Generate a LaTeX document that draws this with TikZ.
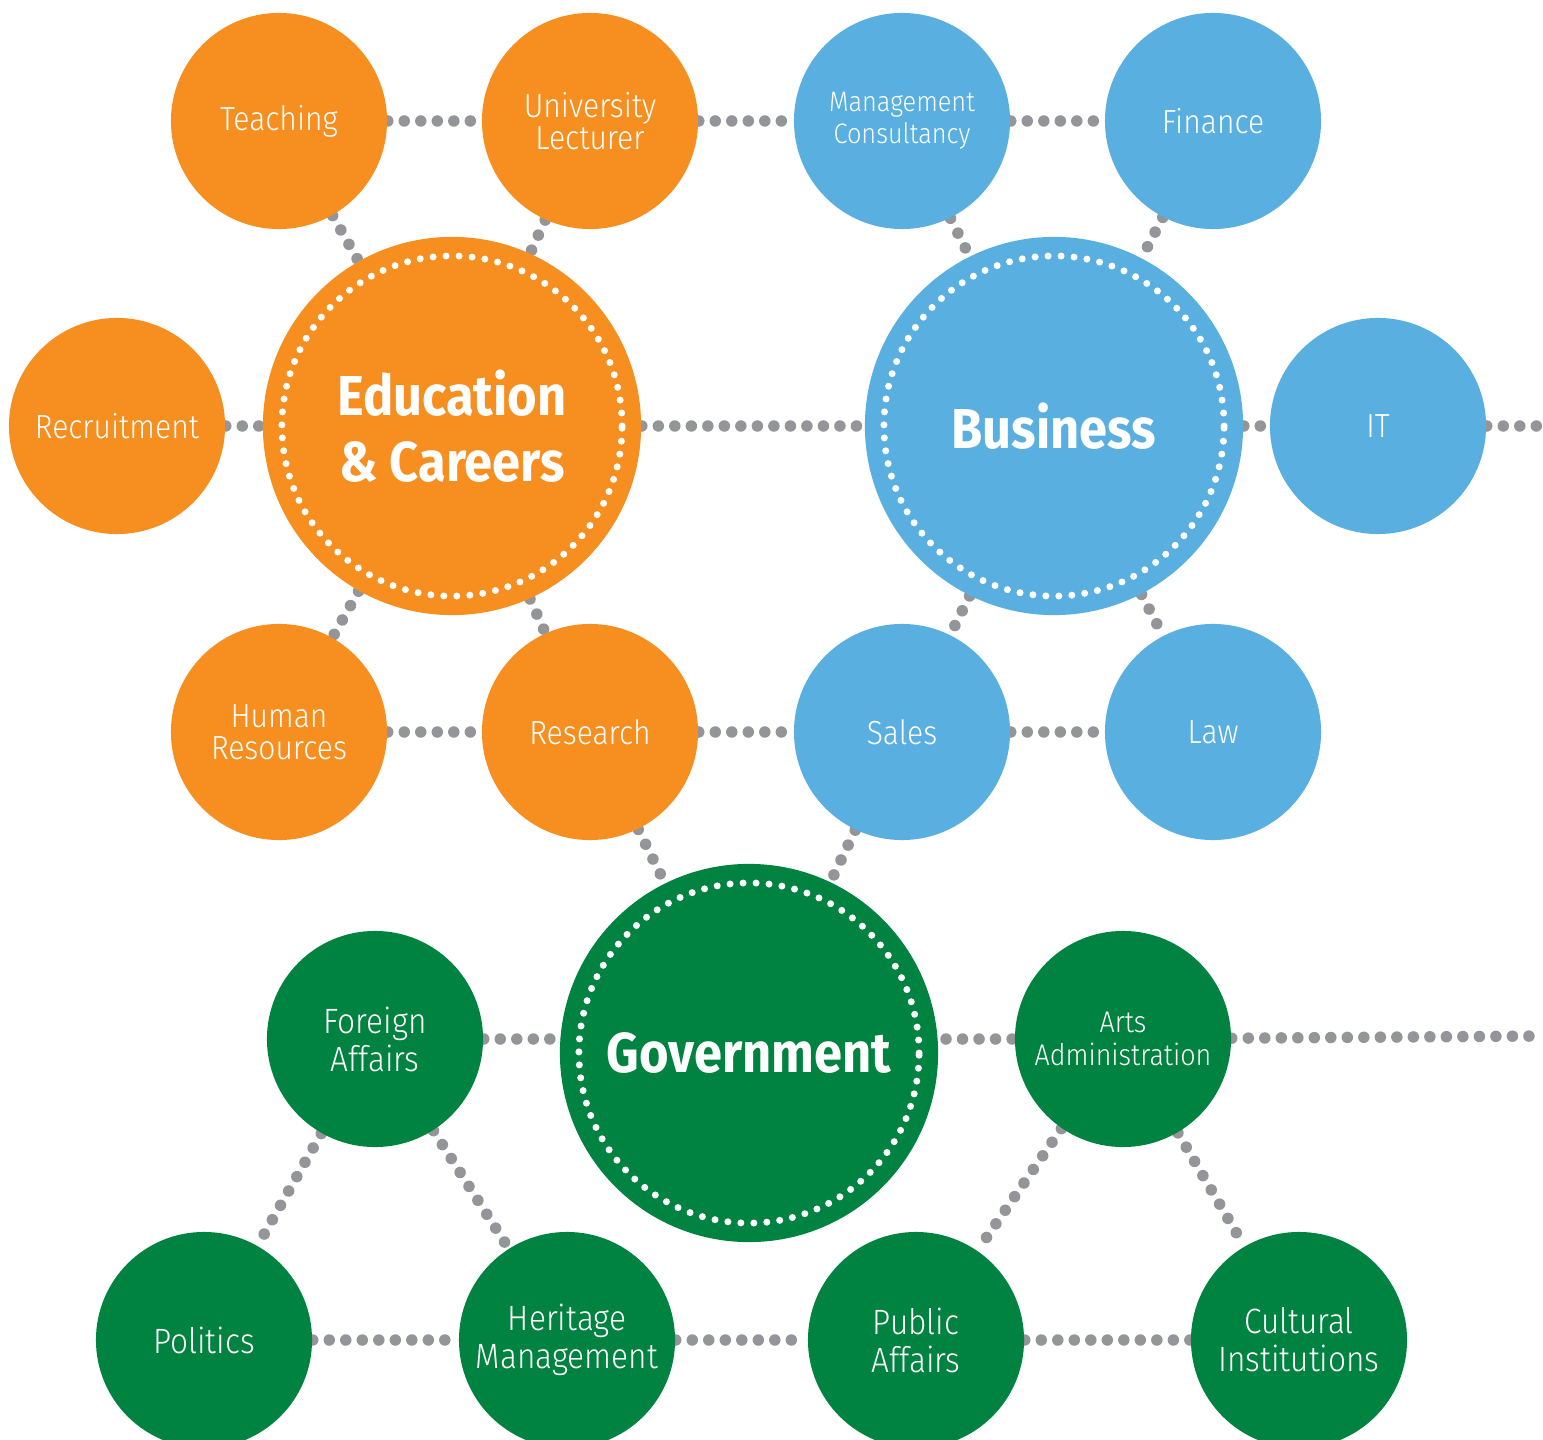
\documentclass[tikz,border=0pt]{standalone}
\usepackage{fontspec}
\setmainfont{Fira Sans}[UprightFont=* Light, BoldFont=* Bold, FakeStretch=0.9]
\usepackage{tikz}
\usetikzlibrary{backgrounds}

\definecolor{edorange}{HTML}{F68E20}
\definecolor{busblue}{HTML}{5AAFE1}
\definecolor{govgreen}{HTML}{008240}
\definecolor{dotgray}{HTML}{939598}

\begin{document}
\begin{tikzpicture}[x=0.01cm,y=-0.01cm,
	sub/.style={circle,minimum size=2.16cm,inner sep=0pt,text=white,align=center,font=\fontsize{9.5}{9.1}\selectfont},
	greensub/.style={sub,fill=govgreen,font=\fontsize{10}{10.8}\selectfont},
	hub/.style={circle,minimum size=3.78cm,inner sep=0pt,text=white,align=center,font=\bfseries\fontsize{16}{18.8}\selectfont},
	link/.style={draw=dotgray,line width=0.115cm,line cap=round,dash pattern=on 0pt off 0.165cm},
	rim/.style={draw=white,line width=0.07cm,line cap=round,dash pattern=on 0pt off 0.13cm}]

	\clip (0,0) rectangle (1543,1440);

	% education & careers
	\node[hub,fill=edorange] (edu) at (452,426) {Education\\\& Careers};
	\node[sub,fill=edorange] (teach) at (279,121) {Teaching};
	\node[sub,fill=edorange] (lect) at (590,121) {University\\Lecturer};
	\node[sub,fill=edorange] (recr) at (117,426) {Recruitment};
	\node[sub,fill=edorange] (hr) at (279,732) {Human\\Resources};
	\node[sub,fill=edorange] (res) at (590,732) {Research};

	% business
	\node[hub,fill=busblue] (bus) at (1054,426) {Business};
	\node[sub,fill=busblue,font=\fontsize{8}{9.1}\selectfont] (mgmt) at (902,121) {Management\\Consultancy};
	\node[sub,fill=busblue] (fin) at (1213,121) {Finance};
	\node[sub,fill=busblue] (it) at (1378,426) {IT};
	\node[sub,fill=busblue] (sales) at (902,732) {Sales};
	\node[sub,fill=busblue] (law) at (1213,732) {Law};

	% government
	\node[hub,fill=govgreen] (gov) at (749,1053) {Government};
	\node[greensub] (fa) at (375,1039) {Foreign\\Affairs};
	\node[greensub,font=\fontsize{8.5}{9.4}\selectfont] (arts) at (1123,1039) {Arts\\Administration};
	\node[greensub] (pol) at (204,1340) {Politics};
	\node[greensub] (her) at (567,1340) {Heritage\\Management};
	\node[greensub] (pub) at (916,1340) {Public\\Affairs};
	\node[greensub] (cult) at (1299,1340) {Cultural\\Institutions};

	\coordinate (itend) at (1543,426);
	\coordinate (artsend) at (1543,1036);

	\foreach \hubname in {edu,bus,gov}
		\draw[rim] (\hubname.center) circle [radius=1.70cm];

	\begin{scope}[on background layer]
		\foreach \a/\b in {teach/lect,lect/mgmt,mgmt/fin,teach/edu,lect/edu,mgmt/bus,fin/bus,
			recr/edu,edu/bus,bus/it,it/itend,edu/hr,edu/res,bus/sales,bus/law,
			hr/res,res/sales,sales/law,res/gov,sales/gov,fa/arts,arts/artsend,
			fa/pol,fa/her,arts/pub,arts/cult,pol/her,her/pub,pub/cult}
			\draw[link] (\a) -- (\b);
	\end{scope}

\end{tikzpicture}
\end{document}
